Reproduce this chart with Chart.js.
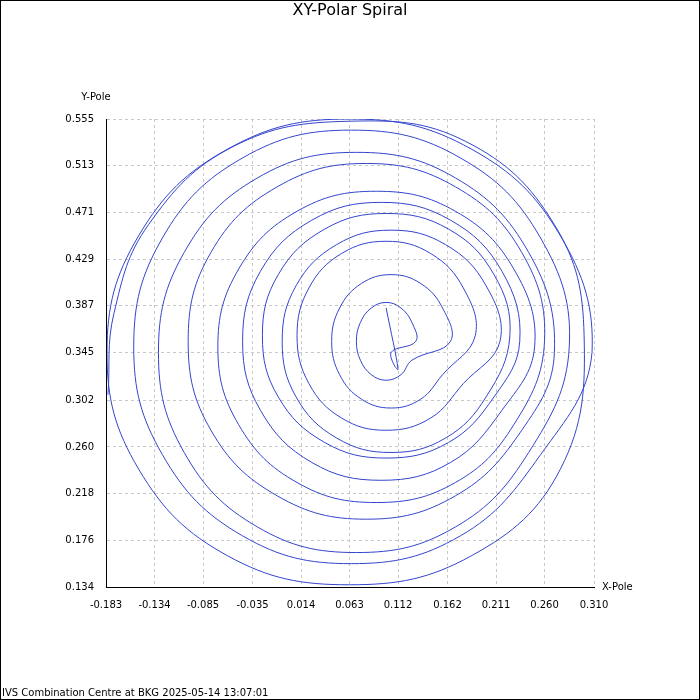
<!DOCTYPE html>
<html><head><meta charset="utf-8">
<script src="https://cdn.jsdelivr.net/npm/chart.js@4"></script>
<style>html,body{margin:0;padding:0;background:#fff}#w{width:700px;height:700px;position:relative}</style>
</head><body><div id="w"><canvas id="c" width="700" height="700"></canvas></div>
<script>
const xTicks=[-0.183,-0.134,-0.085,-0.035,0.014,0.063,0.112,0.162,0.211,0.260,0.310];
const yTicks=[0.134,0.176,0.218,0.260,0.302,0.345,0.387,0.429,0.471,0.513,0.555];
const xPole=[0.100,0.112,0.105,
.130,.126,.115,.100,.085,.074,.070,.074,.085,.100,.115,.126,
.165,.157,.135,.105,.075,.053,.045,.053,.075,.105,.135,.157,
.190,.178,.145,.100,.055,.022,.010,.022,.055,.100,.145,.178,
.215,.201,.160,.105,.050,.009,-.005,.009,.050,.105,.160,.201,
.225,.209,.163,.100,.038,-.009,-.025,-.009,.038,.100,.163,.209,
.235,.217,.165,.095,.025,-.027,-.045,-.027,.025,.095,.165,.217,
.250,.229,.170,.090,.010,-.049,-.070,-.049,.010,.090,.170,.229,
.260,.237,.170,.080,-.010,-.077,-.100,-.077,-.010,.080,.170,.237,
.270,.244,.170,.070,-.030,-.104,-.130,-.104,-.030,.070,.170,.244,
.285,.256,.175,.065,-.045,-.126,-.155,-.126,-.045,.065,.175,.256,
.308,.276,.186,.063,-.060,-.150,-.182,-.150,-.060,.063,.186,.276,
.300,.270,.180,.063,-.055,-.140,-.175,-.181];
const yPole=[0.385,0.330,0.345,
.355,.372,.385,.390,.385,.372,.355,.338,.325,.320,.325,.338,
.355,.385,.407,.415,.407,.385,.355,.325,.303,.295,.303,.325,
.360,.403,.434,.445,.434,.403,.360,.317,.286,.275,.286,.317,
.355,.405,.442,.455,.442,.405,.355,.305,.268,.255,.268,.305,
.360,.415,.456,.470,.456,.415,.360,.305,.264,.250,.264,.305,
.355,.418,.464,.480,.464,.418,.355,.293,.246,.230,.246,.293,
.350,.420,.472,.490,.472,.420,.350,.280,.228,.210,.228,.280,
.355,.435,.494,.515,.494,.435,.355,.275,.216,.195,.216,.275,
.345,.435,.502,.525,.502,.435,.345,.255,.188,.165,.188,.255,
.350,.448,.520,.545,.520,.448,.350,.253,.180,.155,.180,.253,
.345,.450,.528,.555,.528,.450,.345,.240,.162,.136,.162,.240,
.360,.460,.535,.553,.530,.460,.380,.307];
const pts=xPole.map((x,i)=>({x:x,y:yPole[i]}));
const F='DejaVu Sans';
const deco={id:'deco',afterDraw(ch){const c=ch.ctx,a=ch.chartArea;c.save();
c.fillStyle='#000';c.font='16px '+F;c.textAlign='center';c.textBaseline='top';c.fillText('XY-Polar Spiral',350,3);
c.font='10px '+F;c.textAlign='left';c.textBaseline='middle';c.fillText('X-Pole',a.right+8,a.bottom);
c.textAlign='center';c.fillText('Y-Pole',a.left-10,a.top-22);
c.textAlign='left';c.textBaseline='bottom';c.fillText('IVS Combination Centre at BKG 2025-05-14 13:07:01',2,698);
c.strokeStyle='#000';c.lineWidth=1;c.strokeRect(0.5,0.5,699,699);c.restore();}};
new Chart(document.getElementById('c'),{type:'scatter',
data:{datasets:[{data:pts,showLine:true,borderColor:'#3344cc',borderWidth:1,pointRadius:0,tension:0.4,fill:false}]},
options:{responsive:false,animation:false,layout:{padding:{left:0,top:119,right:106,bottom:0}},
plugins:{legend:{display:false},tooltip:{enabled:false}},
scales:{
x:{min:-0.183,max:0.310,afterBuildTicks(s){s.ticks=xTicks.map(v=>({value:v}));},afterFit(s){s.height=113;},
ticks:{callback:(v,i)=>xTicks[i].toFixed(3),color:'#000',font:{family:F,size:10},padding:12,maxRotation:0,autoSkip:false},
grid:{color:'#c8c8c8',tickLength:0,drawTicks:false},border:{color:'#000',dash:[3,3]}},
y:{min:0.134,max:0.555,afterBuildTicks(s){s.ticks=yTicks.map(v=>({value:v}));},afterFit(s){s.width=106;},
ticks:{callback:(v,i)=>yTicks[i].toFixed(3),color:'#000',font:{family:F,size:10},padding:12,autoSkip:false},
grid:{color:'#c8c8c8',drawTicks:false},border:{color:'#000',dash:[3,3]}}}},
plugins:[deco,{id:'axl',afterDraw(ch){const c=ch.ctx,a=ch.chartArea;c.save();c.strokeStyle='#000';c.lineWidth=1;c.beginPath();c.moveTo(a.left+0.5,a.top);c.lineTo(a.left+0.5,a.bottom+0.5);c.lineTo(a.right,a.bottom+0.5);c.stroke();c.restore();}}]});
</script></body></html>
